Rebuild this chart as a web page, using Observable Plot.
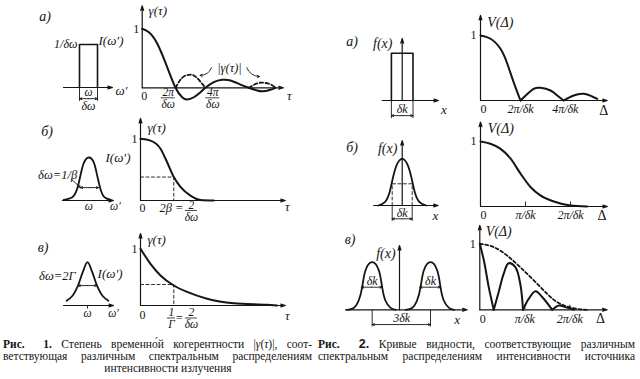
<!DOCTYPE html>
<html lang="ru">
<head>
<meta charset="utf-8">
<script src="https://cdn.jsdelivr.net/npm/d3@7"></script>
<script src="https://cdn.jsdelivr.net/npm/@observablehq/plot@0.6"></script>
<style>
  html,body{margin:0;padding:0;background:#fff;}
  #fig{position:relative;width:640px;height:379px;overflow:hidden;background:#fff;color:#151515;
       font-family:"Liberation Serif","Times New Roman",serif;}
  #fig svg{position:absolute;max-width:none;overflow:visible;}
  .lab{position:absolute;font-style:italic;font-size:14px;line-height:1;transform:translate(-50%,-50%);white-space:nowrap;}
  .cap{position:absolute;font-size:11.5px;line-height:11px;height:11px;white-space:pre;display:inline-block;}
  .cap b, .cap i{line-height:11px;}
</style>
</head>
<body>
<div id="fig"></div>
<script>
// ================= DATA =================
// Fig.1 а: rectangular spectrum (ω'−ω in units of δω, I in units of 1/δω)
const specA_w = [-0.5, -0.5, 0.5, 0.5];
const specA_I = [0, 1, 1, 0];
// Fig.1 а: γ(τ), τ in units of 2π/δω
const tauA   = [0, 0.2, 0.45, 0.75, 1.0, 1.2, 1.35, 1.55, 1.75, 1.9, 2.15, 2.4, 2.65, 2.95, 3.2, 3.45, 3.65, 3.85, 4.0];
const gammaA = [1.0, 0.94, 0.75, 0.35, 0, -0.16, -0.2, -0.16, -0.075, 0, 0.095, 0.135, 0.125, 0.055, 0, -0.045, -0.058, -0.034, 0];
// Fig.1 а: |γ(τ)| where γ < 0 (dashed)
const absTauA   = [1.0, 1.2, 1.4, 1.6, 1.9, 3.2, 3.45, 3.65, 3.85, 4.0];
const absGammaA = [0, 0.17, 0.22, 0.19, 0, 0, 0.075, 0.085, 0.06, 0];
const absLobeA  = [1, 1, 1, 1, 1, 2, 2, 2, 2, 2];
const ticksA    = [0.78, 2.12];
const tickNumA  = ["2π", "4π"];

// Fig.1 б: Gaussian spectrum and γ(τ), τ in units of 2β
const bellB_w = [-1.14, -0.75, -0.53, -0.38, -0.23, 0, 0.23, 0.38, 0.53, 0.71, 0.99];
const bellB_I = [0.016, 0.077, 0.27, 0.58, 0.87, 1.0, 0.88, 0.58, 0.27, 0.077, 0.016];
const tauB    = [0, 0.3, 0.6, 0.8, 1.0, 1.2, 1.5, 1.8, 2.2];
const gammaB  = [1.0, 0.97, 0.84, 0.62, 0.38, 0.22, 0.08, 0.01, 0];
const markB   = {tau: 1.0, gamma: 0.38};

// Fig.1 в: Lorentzian spectrum and γ(τ), τ in units of 1/Γ
const lorC_w  = [-1.1, -0.8, -0.5, -0.25, 0, 0.25, 0.5, 0.8, 1.1];
const lorC_I  = [0.11, 0.22, 0.46, 0.77, 1.0, 0.77, 0.46, 0.22, 0.11];
const tauC    = [0, 0.3, 0.6, 1.0, 1.4, 2.0, 2.8, 3.8, 4.1];
const gammaC  = [1.0, 0.735, 0.53, 0.353, 0.24, 0.12, 0.04, 0.012, 0];
const markC   = {tau: 1.0, gamma: 0.37};

// Fig.2 а: rectangular f(x) (x in units of δk) and V(Δ), Δ in units of 2π/δk
const rectF_x = [-0.5, -0.5, 0.5, 0.5];
const rectF_y = [0, 1, 1, 0];
const vA_d = [0, 0.25, 0.5, 0.67, 0.83, 1.0,  1.0, 1.17, 1.33, 1.5, 1.75, 1.92, 2.08,  2.08, 2.33, 2.58, 2.79, 2.92];
const vA_v = [1.0, 0.95, 0.795, 0.565, 0.28, 0,  0, 0.1, 0.18, 0.195, 0.154, 0.077, 0,  0, 0.077, 0.103, 0.062, 0.026];
const vA_z = [1, 1, 1, 1, 1, 1,  2, 2, 2, 2, 2, 2, 2,  3, 3, 3, 3, 3];
const ticksVA = [1.0, 2.12];
const tickLabVA = ["2π/δk", "4π/δk"];

// Fig.2 б: Gaussian f(x) and V(Δ), Δ in units of π/δk
const bellF_x = [-1.2, -0.87, -0.63, -0.46, -0.25, 0, 0.25, 0.46, 0.63, 0.87, 1.2];
const bellF_y = [0, 0.07, 0.285, 0.6, 0.89, 1.0, 0.89, 0.6, 0.285, 0.07, 0];
const halfF   = {x: 0.5, y: 0.465};
const vB_d = [0, 0.22, 0.44, 0.67, 0.89, 1.11, 1.33, 1.63, 2.0, 2.37];
const vB_v = [1.0, 0.965, 0.89, 0.735, 0.505, 0.3, 0.17, 0.077, 0.015, 0];
const ticksVB = [1, 2];
const tickLabVB = ["π/δk", "2π/δk"];

// Fig.2 в: two Gaussian lines and V(Δ), Δ in units of π/δk
const twoF_x = [-2.41, -2.11, -1.88, -1.72, -1.57, -1.26, -0.95, -0.8, -0.65, -0.41, -0.18,
                 0.28, 0.58, 0.81, 0.97, 1.12, 1.43, 1.74, 1.89, 2.04, 2.28, 2.51];
const twoF_y = [0, 0.04, 0.195, 0.475, 0.825, 1.0, 0.825, 0.475, 0.195, 0.04, 0,
                0, 0.04, 0.195, 0.475, 0.825, 1.0, 0.825, 0.475, 0.195, 0.04, 0];
const twoF_z = [1,1,1,1,1,1,1,1,1,1,1, 2,2,2,2,2,2,2,2,2,2,2];
const peaksF = [-1.26, 1.43];
const vC_d = [0, 0.09, 0.2, 0.31,  0.31, 0.42, 0.53, 0.64, 0.79, 0.9, 0.96,  0.96, 1.09, 1.24, 1.39, 1.61,  1.61, 1.76, 1.9, 2.09];
const vC_v = [1.0, 0.75, 0.34, 0,  0, 0.27, 0.545, 0.705, 0.645, 0.39, 0,  0, 0.17, 0.28, 0.19, 0,  0, 0.065, 0.04, 0];
const vC_z = [1, 1, 1, 1,  2, 2, 2, 2, 2, 2, 2,  3, 3, 3, 3, 3,  4, 4, 4, 4];
const envC_d = [0, 0.31, 0.61, 0.9, 1.2, 1.5, 1.79, 2.16, 2.39];
const envC_v = [1.0, 0.95, 0.82, 0.645, 0.445, 0.24, 0.09, 0.015, 0];
const ticksVC = [1, 2];
const tickLabVC = ["π/δk", "2π/δk"];

// Captions
const cap1 = [
  '<b>Рис.</b>  <b>1.</b> Степень временно́й когерентности |<i>γ</i>(<i>τ</i>)|, соот-',
  'ветствующая различным спектральным распределениям',
  'интенсивности излучения'
];
const cap2 = [
  '<b>Рис.</b>  <b style="font-family:\'Liberation Sans\',sans-serif;font-size:12.5px">2.</b> Кривые видности, соответствующие различным',
  'спектральным распределениям интенсивности источника'
];

// ================= helpers =================
const fig = document.getElementById("fig");
const INK = "#151515";
const SERIF = '"Liberation Serif","Times New Roman",serif';
const pts = (xs, ys, zs) => xs.map((x, i) => ({x, y: ys[i], z: zs ? zs[i] : 0}));

function panel(g, marks) {
  const {left, top, width, height, ox, oy, sx, sy} = g;
  const svg = Plot.plot({
    width, height,
    marginTop: 0, marginRight: 0, marginBottom: 0, marginLeft: 0,
    x: {type: "linear", domain: [(left - ox) / sx, (left + width - ox) / sx], axis: null},
    y: {type: "linear", domain: [(oy - top - height) / sy, (oy - top) / sy], axis: null},
    style: {background: "transparent", overflow: "visible", fontFamily: SERIF, fontSize: "12px", color: INK},
    marks: marks.flat()
  });
  svg.style.position = "absolute";
  svg.style.left = left + "px";
  svg.style.top = top + "px";
  svg.style.maxWidth = "none";
  fig.appendChild(svg);
}
const ax = (x1, y1, x2, y2) => Plot.arrow([0], {x1, y1, x2, y2, stroke: INK, strokeWidth: 1.2, headLength: 6, headAngle: 34});
const seg = (x1, y1, x2, y2, o = {}) => Plot.link([0], {x1, y1, x2, y2, stroke: INK, strokeWidth: 0.9, ...o});
const dbl = (xa, xb, y) => {
  const xm = (xa + xb) / 2;
  return [
    Plot.arrow([0], {x1: xm, y1: y, x2: xa, y2: y, stroke: INK, strokeWidth: 0.9, headLength: 4, headAngle: 45}),
    Plot.arrow([0], {x1: xm, y1: y, x2: xb, y2: y, stroke: INK, strokeWidth: 0.9, headLength: 4, headAngle: 45})
  ];
};
const txt = (s, x, y, o = {}) => Plot.text([s], {x, y, text: d => d, fill: INK, fontStyle: "italic", fontSize: 13, ...o});
const num = (s, x, y, o = {}) => txt(s, x, y, {fontStyle: "normal", fontSize: 12, ...o});
const frac = (x, y, top, bot, halfPx, sx, dy0 = 5) => [
  txt(top, x, y, {dy: dy0, fontSize: 11.5}),
  Plot.ruleY([y], {x1: x - halfPx / sx, x2: x + halfPx / sx, dy: dy0 + 5.5, stroke: INK, strokeWidth: 0.8}),
  txt(bot, x, y, {dy: dy0 + 12, fontSize: 11.5})
];
function label(s, cx, cy) {
  const d = document.createElement("div");
  d.className = "lab"; d.textContent = s;
  d.style.left = cx + "px"; d.style.top = cy + "px";
  fig.appendChild(d);
}
// one caption line; justified to `width` by spreading the word spaces, or centred on `center`
function capLine(html, left, top, width, center) {
  const d = document.createElement("div");
  d.className = "cap"; d.innerHTML = html;
  d.style.top = top + "px";
  fig.appendChild(d);
  const w = d.getBoundingClientRect().width;
  if (center != null) {
    d.style.left = (center - w / 2) + "px";
  } else {
    const n = (d.textContent.match(/ /g) || []).length;
    d.style.left = left + "px";
    if (n) d.style.wordSpacing = ((width - w) / n) + "px";
  }
}
const solid = (data, curve, w = 2) => Plot.line(data, {x: "x", y: "y", z: "z", stroke: INK, strokeWidth: w, curve});
const dashed = (data, curve, w = 1, dash = "3,2.5") => Plot.line(data, {x: "x", y: "y", z: "z", stroke: INK, strokeWidth: w, strokeDasharray: dash, curve});

// ================= Fig. 1 =================
// а) spectrum
const g1aL = {left: 50, top: 30, width: 80, height: 85, ox: 88, oy: 87, sx: 18, sy: 43};
panel(g1aL, [
  ax(-1.39, 0, 1.33, 0),
  solid(pts(specA_w, specA_I), "linear", 1.6),
  seg(-0.5, 0, -0.5, -0.31), seg(0.5, 0, 0.5, -0.31),
  dbl(-0.5, 0.5, -0.26),
  txt("1/δω", -0.5, 1, {textAnchor: "end", dx: -2, fontSize: 12}),
  txt("I(ω′)", 0.5, 1, {textAnchor: "start", dx: 1, dy: -4}),
  txt("ω", 0, 0, {dy: 5, fontSize: 11.5}),
  txt("δω", 0, -0.26, {dy: 7, fontSize: 12}),
  txt("ω′", 1.33, 0, {textAnchor: "start", dx: 3, dy: 3})
]);
// а) γ(τ)
const g1aR = {left: 130, top: 0, width: 170, height: 112, ox: 141.7, oy: 87.3, sx: 33.3, sy: 59};
panel(g1aR, [
  ax(0, 0, 4.24, 0), ax(0, 0, 0, 1.39),
  dashed(pts(absTauA, absGammaA, absLobeA), "natural", 1.8, "3.5,2.5"),
  solid(pts(tauA, gammaA), "natural", 2),
  txt("γ(τ)", 0.19, 1.31, {textAnchor: "start"}),
  num("1", 0, 1, {textAnchor: "end", dx: -3}),
  num("0", 0, 0, {dx: 2, dy: 8}),
  txt("τ", 4.42, 0, {dy: 8}),
  ticksA.map((t, i) => frac(t, 0, tickNumA[i], "δω", 7, g1aR.sx, 4.5)),
  txt("|γ(τ)|", 2.62, 0.33, {fontSize: 12.5}),
  Plot.arrow([0], {x1: 2.08, y1: 0.34, x2: 1.74, y2: 0.21, bend: 35, stroke: INK, strokeWidth: 0.9, headLength: 4}),
  Plot.arrow([0], {x1: 3.14, y1: 0.34, x2: 3.52, y2: 0.19, bend: -35, stroke: INK, strokeWidth: 0.9, headLength: 4})
]);

// б) spectrum
const g1bL = {left: 30, top: 145, width: 100, height: 70, ox: 88.3, oy: 200, sx: 22, sy: 43};
panel(g1bL, [
  ax(-1.2, 0, 1.12, 0),
  solid(pts(bellB_w, bellB_I), "natural", 1.8),
  Plot.arrow([0], {x1: -0.78, y1: 0.49, x2: -0.38, y2: 0.3, stroke: INK, strokeWidth: 0.9, headLength: 4}),
  dbl(-0.38, 0.45, 0.3),
  txt("δω=1/β", -0.53, 0.6, {textAnchor: "end", fontSize: 12.5}),
  txt("I(ω′)", 0.76, 1.0, {textAnchor: "start"}),
  txt("ω", 0, 0, {dy: 6, fontSize: 11.5}),
  txt("ω′", 1.21, 0, {dy: 6, fontSize: 11.5})
]);
// б) γ(τ)
const g1bR = {left: 128, top: 112, width: 170, height: 110, ox: 140, oy: 200, sx: 33.3, sy: 61.7};
panel(g1bR, [
  ax(0, 0, 4.35, 0), ax(0, 0, 0, 1.33),
  dashed(pts([0, markB.tau, markB.tau], [markB.gamma, markB.gamma, 0]), "linear", 0.9),
  solid(pts(tauB, gammaB), "monotone-x", 2),
  txt("γ(τ)", 0.21, 1.18, {textAnchor: "start"}),
  num("1", 0, 1, {textAnchor: "end", dx: -3}),
  num("0", 0, 0, {dx: 2, dy: 8}),
  txt("τ", 4.41, 0, {dy: 6}),
  txt("2β =", 1.29, 0, {textAnchor: "end", dy: 7, fontSize: 12.5}),
  frac(1.53, 0, "2", "δω", 6, g1bR.sx, 4.5)
]);

// в) spectrum
const g1cL = {left: 30, top: 255, width: 100, height: 65, ox: 87, oy: 305, sx: 19, sy: 43.3};
panel(g1cL, [
  ax(-1.26, 0, 1.37, 0),
  seg(0, 0, 0, -0.07),
  solid(pts(lorC_w, lorC_I), "catmull-rom", 1.8),
  dbl(-0.5, 0.5, 0.46),
  txt("δω=2Γ", -0.63, 0.69, {textAnchor: "end", fontSize: 12.5}),
  txt("I(ω′)", 0.53, 0.74, {textAnchor: "start"}),
  txt("ω", 0, 0, {dy: 8, fontSize: 11.5}),
  txt("ω′", 1.37, 0, {dy: 8, fontSize: 11.5})
]);
// в) γ(τ)
const g1cR = {left: 128, top: 228, width: 170, height: 95, ox: 140, oy: 305, sx: 33.3, sy: 56.7};
panel(g1cR, [
  ax(0, 0, 4.35, 0), ax(0, 0, 0, 1.27),
  dashed(pts([0, markC.tau, markC.tau], [markC.gamma, markC.gamma, 0]), "linear", 0.9),
  solid(pts(tauC, gammaC), "monotone-x", 2),
  txt("γ(τ)", 0.21, 1.15, {textAnchor: "start"}),
  num("1", 0, 1, {textAnchor: "end", dx: -3}),
  num("0", 0, 0, {dx: 2, dy: 10}),
  txt("τ", 4.41, 0, {dy: 10}),
  frac(0.93, 0, "1", "Γ", 4, g1cR.sx, 7),
  num("=", 1.17, 0, {dy: 12.5}),
  frac(1.53, 0, "2", "δω", 6, g1cR.sx, 7)
]);

// ================= Fig. 2 =================
// а) f(x)
const g2aL = {left: 360, top: 28, width: 95, height: 95, ox: 401.7, oy: 100, sx: 21.6, sy: 47.3};
panel(g2aL, [
  ax(-0.93, 0, 1.68, 0), ax(0, 0, 0, 1.31),
  solid(pts(rectF_x, rectF_y), "linear", 1.6),
  seg(-0.5, 0, -0.5, -0.37), seg(0.5, 0, 0.5, -0.37),
  dbl(-0.5, 0.5, -0.32),
  txt("f(x)", -0.45, 1.2, {textAnchor: "end", fontSize: 14}),
  txt("δk", 0, 0, {dy: 8.5, fontSize: 12}),
  txt("x", 1.93, 0, {dy: 9.5})
]);
// а) V(Δ)
const g2aR = {left: 465, top: 5, width: 150, height: 112, ox: 480, oy: 100, sx: 40, sy: 65};
panel(g2aR, [
  ax(0, 0, 3.17, 0), ax(0, 0, 0, 1.31),
  solid(pts(vA_d, vA_v, vA_z), "natural", 2),
  txt("V(Δ)", 0.17, 1.2, {textAnchor: "start", fontSize: 14}),
  num("1", 0, 1, {textAnchor: "end", dx: -4}),
  num("0", 0, 0, {dx: 3, dy: 9}),
  ticksVA.map((t, i) => txt(tickLabVA[i], t, 0, {dy: 9, fontSize: 12})),
  num("Δ", 3.08, 0, {dy: 10, fontSize: 14})
]);

// б) f(x)
const g2bL = {left: 360, top: 135, width: 95, height: 92, ox: 401.7, oy: 205, sx: 20, sy: 46.7};
panel(g2bL, [
  ax(-1.43, 0, 1.8, 0), ax(0, 0, 0, 1.39),
  dashed(pts([-halfF.x, -halfF.x, halfF.x, halfF.x], [0, halfF.y, halfF.y, 0]), "linear", 0.9),
  seg(-halfF.x, 0, -halfF.x, -0.33), seg(halfF.x, 0, halfF.x, -0.33),
  dbl(-halfF.x, halfF.x, -0.285),
  solid(pts(bellF_x, bellF_y), "natural", 1.8),
  txt("f(x)", -0.24, 1.21, {textAnchor: "end", fontSize: 14}),
  txt("δk", 0, 0, {dy: 8, fontSize: 12}),
  txt("x", 1.66, 0, {dy: 10})
]);
// б) V(Δ)
const g2bR = {left: 465, top: 112, width: 150, height: 112, ox: 480, oy: 206, sx: 45, sy: 65};
panel(g2bR, [
  ax(0, 0, 2.82, 0), ax(0, 0, 0, 1.3),
  Plot.ruleX(ticksVB, {y1: 0, y2: 0.07, stroke: INK, strokeWidth: 0.9}),
  solid(pts(vB_d, vB_v), "monotone-x", 2),
  txt("V(Δ)", 0.16, 1.2, {textAnchor: "start", fontSize: 14}),
  num("1", 0, 1, {textAnchor: "end", dx: -4}),
  num("0", 0, 0, {dx: 3, dy: 9}),
  ticksVB.map((t, i) => txt(tickLabVB[i], t, 0, {dy: 9, fontSize: 12})),
  num("Δ", 2.7, 0, {dy: 9, fontSize: 14})
]);

// в) f(x)
const g2cL = {left: 338, top: 240, width: 135, height: 92, ox: 399, oy: 309.3, sx: 21.7, sy: 47.6};
panel(g2cL, [
  ax(-2.49, 0, 3.12, 0), ax(0, 0, 0, 1.35),
  solid(pts(twoF_x, twoF_y, twoF_z), "natural", 1.8),
  dbl(-1.76, -0.8, 0.475), dbl(0.93, 1.89, 0.475),
  peaksF.map(p => txt("δk", p, 0.475, {dy: -6, fontSize: 12})),
  peaksF.map(p => seg(p, 0, p, -0.35)),
  dbl(peaksF[0], peaksF[1], -0.31),
  txt("3δk", 0.1, -0.31, {dy: -6, fontSize: 12}),
  txt("f(x)", -0.18, 1.18, {textAnchor: "end", fontSize: 14}),
  txt("x", 2.66, 0, {dy: 10})
]);
// в) V(Δ)
const g2cR = {left: 465, top: 218, width: 150, height: 108, ox: 479.3, oy: 309.3, sx: 45, sy: 66};
panel(g2cR, [
  ax(0, 0, 2.83, 0), ax(0, 0, 0, 1.28),
  Plot.ruleX(ticksVC, {y1: 0, y2: 0.07, stroke: INK, strokeWidth: 0.9}),
  dashed(pts(envC_d, envC_v), "natural", 1.8, "3,2.5"),
  solid(pts(vC_d, vC_v, vC_z), "catmull-rom", 2),
  txt("V(Δ)", 0.13, 1.18, {textAnchor: "start", fontSize: 14}),
  num("1", 0, 1, {textAnchor: "end", dx: -4}),
  num("0", 0, 0, {dx: 3, dy: 9}),
  ticksVC.map((t, i) => txt(tickLabVC[i], t, 0, {dy: 9, fontSize: 12})),
  num("Δ", 2.68, 0, {dy: 9, fontSize: 14})
]);

// ================= panel letters =================
label("а)", 45, 17); label("б)", 47, 132); label("в)", 43, 248);
label("а)", 352, 42); label("б)", 352, 148); label("в)", 350, 240);

// ================= captions =================
capLine(cap1[0], 3, 339, 309);
capLine(cap1[1], 3, 351, 309);
capLine(cap1[2], 0, 363, 0, 168);
capLine(cap2[0], 318, 339, 317);
capLine(cap2[1], 318, 351, 317);
</script>
</body>
</html>
